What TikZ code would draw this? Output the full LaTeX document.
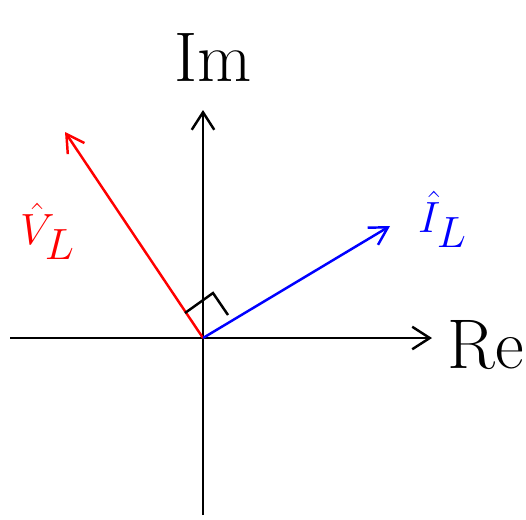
\documentclass[tikz,border=0pt]{standalone}
\usepackage{amsmath}
\usepackage{amssymb}
\usetikzlibrary{arrows.meta, positioning}

\begin{document}
\begin{tikzpicture}[
    every node/.style={inner sep=0pt},
    axis/.style={-{Straight Barb[length=3.5mm, width=4.5mm]}, line width=1.4pt},
    arrow/.style={-{Straight Barb[length=3.5mm, width=4mm]}, line width=1.4pt},
    lbl/.style={font=\fontsize{40}{40}\selectfont}
]
\useasboundingbox (0,0) rectangle (10.52,10.38);

% 坐标轴
\coordinate (o) at (4.06,3.62);
\coordinate (xl) at (0.2,3.62);
\coordinate (xr) at (8.64,3.62);
\coordinate (yb) at (4.06,0.08);
\coordinate (yt) at (4.06,8.18);
\draw[axis] (xl) -- (xr);
\draw[axis] (yb) -- (yt);
\node[lbl] (re) at (9.72,3.48) {Re};
\node[lbl] (im) at (4.26,9.24) {Im};

% 相量
\coordinate (vtip) at (1.30,7.74);
\coordinate (itip) at (7.80,5.86);
\draw[arrow, red] (o) -- (vtip);
\draw[arrow, blue] (o) -- (itip);
\node[lbl, red] (vl) at (0.95,5.75) {$\hat{V}_L$};
\node[lbl, blue] (il) at (8.85,6.00) {$\hat{I}_L$};

% 直角
\coordinate (r1) at (3.70,4.12);
\coordinate (r2) at (4.26,4.52);
\coordinate (r3) at (4.56,4.08);
\draw[line width=1.4pt] (r1) -- (r2) -- (r3);

\end{tikzpicture}
\end{document}
